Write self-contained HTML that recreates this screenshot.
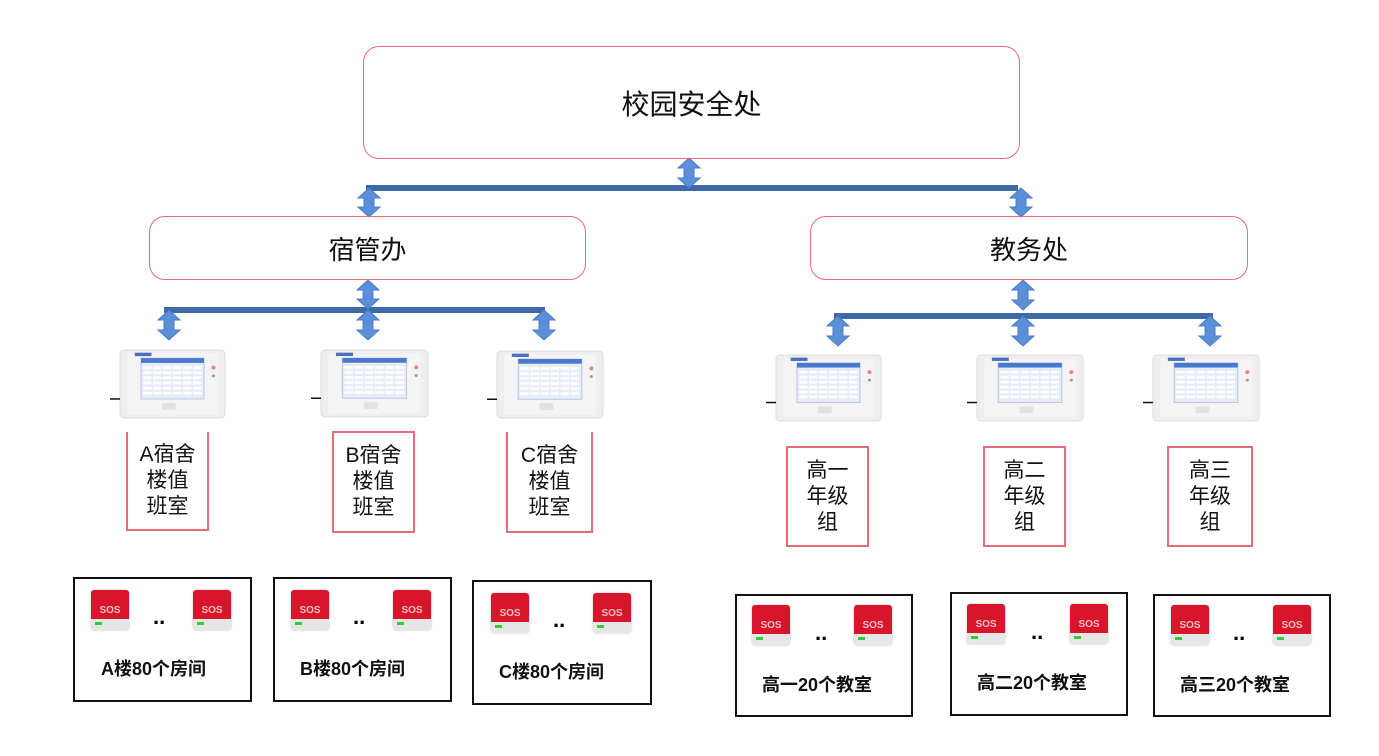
<!DOCTYPE html>
<html><head><meta charset="utf-8">
<style>
body{margin:0;width:1379px;height:756px;background:#fff;position:relative;overflow:hidden;font-family:"Liberation Sans","Noto Sans CJK SC",sans-serif;}
.a{position:absolute;box-sizing:border-box;}
.rb{border:1.5px solid #e8697a;border-radius:16px;display:flex;align-items:center;justify-content:center;color:#111;}
.lb{border:2px solid #e8697a;display:flex;align-items:center;justify-content:center;text-align:center;font-size:21px;line-height:26px;color:#111;}
.bb{border:2px solid #111;}
.sos{position:absolute;width:38px;height:40px;border-radius:3px;overflow:hidden;box-shadow:0 0 2px #bbb;}
.sos .r{height:29px;background:#d8152b;color:#f3c0c5;font-size:10px;font-weight:bold;text-align:center;line-height:12px;padding-top:15px;box-sizing:border-box;}
.sos .g{height:11px;background:#e6e6e6;position:relative;}
.sos .g:before{content:"";position:absolute;left:4px;top:3px;width:7px;height:3px;background:#3c3;}
.dots{position:absolute;font-size:22px;font-weight:bold;}
.bt{position:absolute;font-size:18px;font-weight:bold;color:#111;}
</style></head><body>
<svg class="a" style="left:0;top:0" width="1379" height="756" id="s">
<g fill="#3f6aa8">
<rect x="366" y="185" width="652" height="6"/>
<rect x="164" y="307" width="381" height="6"/>
<rect x="834" y="313" width="379" height="6"/>
</g>
<g id="arr" fill="#5b8fd8" stroke="#4a7cc4" stroke-width="1"></g>
<g id="dev"></g>
</svg>

<div class="a rb" style="left:363px;top:46px;width:657px;height:113px;font-size:28px;">校园安全处</div>
<div class="a rb" style="left:149px;top:216px;width:437px;height:64px;font-size:26px;">宿管办</div>
<div class="a rb" style="left:810px;top:216px;width:438px;height:64px;font-size:26px;">教务处</div>

<div class="a lb" style="left:126px;top:432px;width:83px;height:99px;border-top:none;">A宿舍<br>楼值<br>班室</div>
<div class="a lb" style="left:332px;top:431px;width:83px;height:102px;">B宿舍<br>楼值<br>班室</div>
<div class="a lb" style="left:506px;top:432px;width:87px;height:101px;border-top:none;">C宿舍<br>楼值<br>班室</div>
<div class="a lb" style="left:786px;top:446px;width:83px;height:101px;">高一<br>年级<br>组</div>
<div class="a lb" style="left:983px;top:446px;width:83px;height:101px;">高二<br>年级<br>组</div>
<div class="a lb" style="left:1167px;top:446px;width:86px;height:101px;">高三<br>年级<br>组</div>

<div class="a bb" style="left:73px;top:577px;width:179px;height:125px;"></div>
<div class="a bb" style="left:273px;top:577px;width:179px;height:125px;"></div>
<div class="a bb" style="left:472px;top:580px;width:180px;height:125px;"></div>
<div class="a bb" style="left:735px;top:594px;width:178px;height:123px;"></div>
<div class="a bb" style="left:950px;top:592px;width:178px;height:124px;"></div>
<div class="a bb" style="left:1153px;top:594px;width:178px;height:123px;"></div>

<div class="sos" style="left:91px;top:590px"><div class="r">SOS</div><div class="g"></div></div>
<div class="sos" style="left:193px;top:590px"><div class="r">SOS</div><div class="g"></div></div>
<div class="dots" style="left:153px;top:604px">..</div>
<div class="bt" style="left:101px;top:655px">A楼80个房间</div>

<div class="sos" style="left:291px;top:590px"><div class="r">SOS</div><div class="g"></div></div>
<div class="sos" style="left:393px;top:590px"><div class="r">SOS</div><div class="g"></div></div>
<div class="dots" style="left:353px;top:604px">..</div>
<div class="bt" style="left:300px;top:655px">B楼80个房间</div>

<div class="sos" style="left:491px;top:593px"><div class="r">SOS</div><div class="g"></div></div>
<div class="sos" style="left:593px;top:593px"><div class="r">SOS</div><div class="g"></div></div>
<div class="dots" style="left:553px;top:607px">..</div>
<div class="bt" style="left:499px;top:658px">C楼80个房间</div>

<div class="sos" style="left:752px;top:605px"><div class="r">SOS</div><div class="g"></div></div>
<div class="sos" style="left:854px;top:605px"><div class="r">SOS</div><div class="g"></div></div>
<div class="dots" style="left:815px;top:620px">..</div>
<div class="bt" style="left:762px;top:671px">高一20个教室</div>

<div class="sos" style="left:967px;top:604px"><div class="r">SOS</div><div class="g"></div></div>
<div class="sos" style="left:1070px;top:604px"><div class="r">SOS</div><div class="g"></div></div>
<div class="dots" style="left:1031px;top:619px">..</div>
<div class="bt" style="left:977px;top:669px">高二20个教室</div>

<div class="sos" style="left:1171px;top:605px"><div class="r">SOS</div><div class="g"></div></div>
<div class="sos" style="left:1273px;top:605px"><div class="r">SOS</div><div class="g"></div></div>
<div class="dots" style="left:1233px;top:620px">..</div>
<div class="bt" style="left:1180px;top:671px">高三20个教室</div>

<script>
var ns="http://www.w3.org/2000/svg";
function el(p,t,a){var e=document.createElementNS(ns,t);for(var k in a)e.setAttribute(k,a[k]);p.appendChild(e);return e;}
var ag=document.getElementById('arr');
function arrow(cx,y0,y1){var p=[[cx,y0],[cx+11,y0+10],[cx+5,y0+10],[cx+5,y1-10],[cx+11,y1-10],[cx,y1],[cx-11,y1-10],[cx-5,y1-10],[cx-5,y0+10],[cx-11,y0+10]];
el(ag,'polygon',{points:p.map(function(q){return q.join(',')}).join(' ')});}
arrow(689,158,188);arrow(369,188,217);arrow(1021,188,217);
arrow(368,280,309);arrow(169,310,340);arrow(368,310,340);arrow(544,310,340);
arrow(1023,280,310);arrow(838,316,346);arrow(1023,316,346);arrow(1210,316,346);
var dg=document.getElementById('dev');
function dev(x,y,w,h){
el(dg,'rect',{x:x,y:y,width:w,height:h,rx:4,fill:'#eeeeee',stroke:'#dcdcdc'});
el(dg,'rect',{x:x+w*0.07,y:y+h*0.05,width:w*0.86,height:h*0.9,fill:'#f4f4f4'});
el(dg,'rect',{x:x+w*0.2,y:y+h*0.12,width:w*0.6,height:h*0.6,fill:'#e6ecf8',stroke:'#b8c6e8'});
el(dg,'rect',{x:x+w*0.2,y:y+h*0.12,width:w*0.6,height:h*0.07,fill:'#4a78d0'});
for(var r=0;r<6;r++)for(var c=0;c<6;c++)el(dg,'rect',{x:x+w*0.22+c*w*0.095,y:y+h*0.24+r*h*0.075,width:w*0.08,height:h*0.04,fill:'#fff'});
el(dg,'rect',{x:x+w*0.14,y:y+h*0.04,width:w*0.16,height:h*0.05,fill:'#4a6fc0'});
el(dg,'circle',{cx:x+w*0.89,cy:y+h*0.26,r:2,fill:'#f08080'});
el(dg,'circle',{cx:x+w*0.89,cy:y+h*0.38,r:1.5,fill:'#999'});
el(dg,'rect',{x:x+w*0.4,y:y+h*0.78,width:w*0.13,height:h*0.1,fill:'#e2e2e2'});
el(dg,'path',{d:'M'+(x-10)+' '+(y+h*0.72)+' h10',stroke:'#111','stroke-width':1.5});
}
dev(120,350,105,68);dev(321,350,107,67);dev(497,351,106,67);
dev(776,355,105,66);dev(977,355,106,66);dev(1153,355,106,66);
</script>
</body></html>
